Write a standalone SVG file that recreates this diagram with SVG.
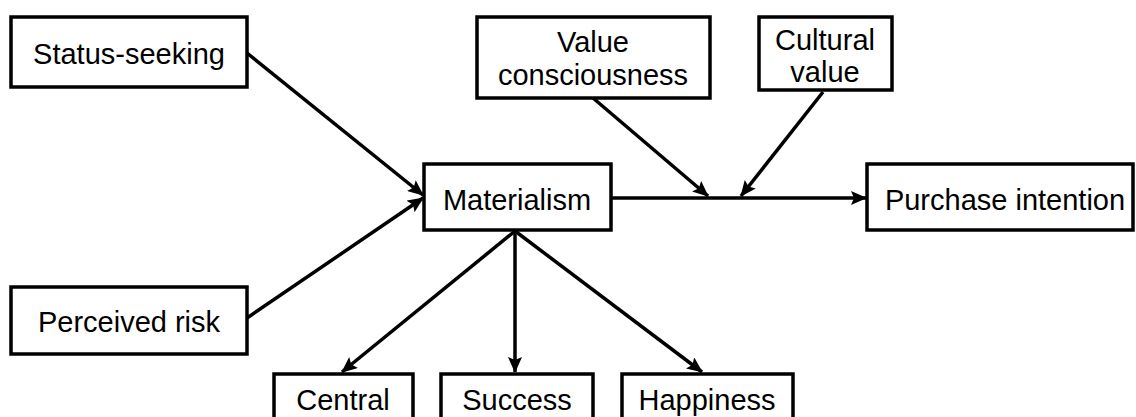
<svg xmlns="http://www.w3.org/2000/svg" width="1136" height="417" viewBox="0 0 1136 417">
<defs>
<style>
.box{fill:#fff;stroke:#000;stroke-width:3.5}
.t{font-family:"Liberation Sans",Arial,sans-serif;font-size:29px;fill:#000;text-anchor:middle}
.c{stroke:#000;stroke-width:3.5;fill:none}
</style>
<marker id="ah" markerUnits="userSpaceOnUse" markerWidth="16" markerHeight="14" refX="15" refY="7" orient="auto">
<path d="M0,0 L16,7 L0,14 L3,7 Z" fill="#000"/>
</marker>
</defs>
<g id="connectors">
<line class="c" x1="247" y1="53" x2="423" y2="195" marker-end="url(#ah)"/>
<line class="c" x1="247" y1="318" x2="423" y2="198" marker-end="url(#ah)"/>
<line class="c" x1="611" y1="198" x2="866" y2="198" marker-end="url(#ah)"/>
<line class="c" x1="593" y1="98" x2="708" y2="196" marker-end="url(#ah)"/>
<line class="c" x1="823" y1="92" x2="741" y2="196" marker-end="url(#ah)"/>
<line class="c" x1="515" y1="231" x2="342" y2="372" marker-end="url(#ah)"/>
<line class="c" x1="515" y1="231" x2="515" y2="372" marker-end="url(#ah)"/>
<line class="c" x1="515" y1="231" x2="702" y2="372" marker-end="url(#ah)"/>
</g>
<g id="status-seeking">
<rect class="box" x="11" y="17" width="236" height="70"/>
<text class="t" x="129" y="64">Status-seeking</text>
</g>
<g id="perceived-risk">
<rect class="box" x="11" y="287" width="236" height="67"/>
<text class="t" x="129" y="332">Perceived risk</text>
</g>
<g id="value-consciousness">
<rect class="box" x="477" y="17" width="233" height="81"/>
<text class="t" x="593" y="52">Value</text>
<text class="t" x="593" y="85">consciousness</text>
</g>
<g id="cultural-value">
<rect class="box" x="759" y="17" width="133" height="73"/>
<text class="t" x="825" y="50">Cultural</text>
<text class="t" x="825" y="82">value</text>
</g>
<g id="materialism">
<rect class="box" x="424" y="164" width="187" height="66"/>
<text class="t" x="517" y="210">Materialism</text>
</g>
<g id="purchase-intention">
<rect class="box" x="867" y="164" width="266" height="66"/>
<text class="t" x="1005" y="210">Purchase intention</text>
</g>
<g id="central">
<rect class="box" x="274" y="374" width="139" height="60"/>
<text class="t" x="343" y="410">Central</text>
</g>
<g id="success">
<rect class="box" x="441" y="374" width="152" height="60"/>
<text class="t" x="517" y="410">Success</text>
</g>
<g id="happiness">
<rect class="box" x="622" y="374" width="171" height="60"/>
<text class="t" x="707" y="410">Happiness</text>
</g>
</svg>
